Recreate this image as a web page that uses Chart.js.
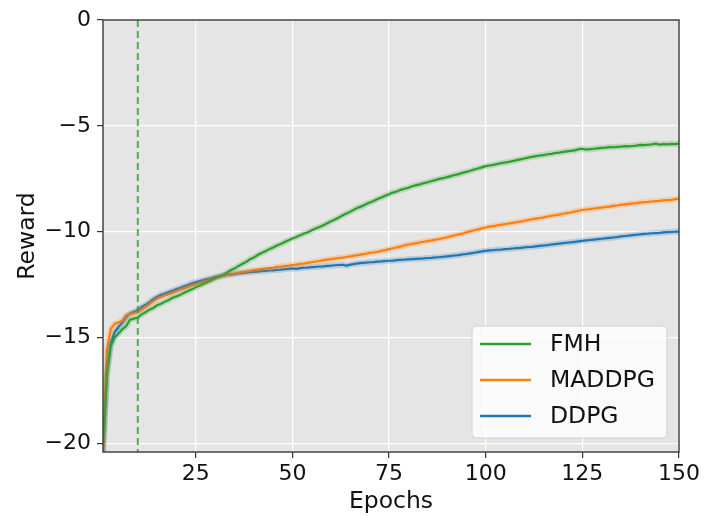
<!DOCTYPE html>
<html>
<head>
<meta charset="utf-8">
<script src="https://cdn.jsdelivr.net/npm/chart.js@4.4.1/dist/chart.umd.min.js"></script>
<style>
  html, body { margin: 0; padding: 0; background: #fff; }
  #wrap { width: 704px; height: 516px; }
</style>
</head>
<body>
<div id="wrap"><canvas id="myChart" width="704" height="516"></canvas></div>
<script>
// epochs 1..150
var epochs = [];
for (var i = 1; i <= 150; i++) epochs.push(i);

var xTicks = [25, 50, 75, 100, 125, 150];
var yTicks = [0, -5, -10, -15, -20];
var markerEpoch = 10;

var fmh = [
  -20.0, -16.8, -15.4, -15.0, -14.8, -14.6, -14.45, -14.15, -14.1, -14.05,
  -13.9, -13.8, -13.68, -13.6, -13.47, -13.4, -13.3, -13.22, -13.12, -13.05,
  -12.98, -12.88, -12.8, -12.72, -12.62, -12.55, -12.47, -12.38, -12.3, -12.2,
  -12.12, -12.04, -11.93, -11.82, -11.74, -11.62, -11.52, -11.43, -11.3, -11.22,
  -11.1, -11.0, -10.92, -10.82, -10.74, -10.65, -10.58, -10.48, -10.4, -10.32,
  -10.25, -10.17, -10.08, -10.02, -9.93, -9.85, -9.77, -9.69, -9.6, -9.5,
  -9.42, -9.33, -9.22, -9.14, -9.05, -8.95, -8.86, -8.79, -8.7, -8.62,
  -8.55, -8.45, -8.38, -8.3, -8.23, -8.15, -8.1, -8.02, -7.97, -7.92,
  -7.85, -7.8, -7.76, -7.7, -7.66, -7.6, -7.56, -7.5, -7.47, -7.42,
  -7.37, -7.32, -7.28, -7.22, -7.17, -7.12, -7.06, -7.01, -6.96, -6.9,
  -6.87, -6.84, -6.8, -6.76, -6.73, -6.7, -6.66, -6.62, -6.58, -6.54,
  -6.5, -6.46, -6.43, -6.4, -6.38, -6.34, -6.32, -6.28, -6.26, -6.23,
  -6.2, -6.18, -6.16, -6.1, -6.08, -6.12, -6.1, -6.08, -6.06, -6.04,
  -6.03, -6.0, -6.01, -5.99, -5.98, -5.96, -5.97, -5.95, -5.93, -5.9,
  -5.91, -5.89, -5.87, -5.84, -5.88, -5.86, -5.87, -5.85, -5.86, -5.84
];

var maddpg = [
  -20.4, -15.6, -14.6, -14.35, -14.28, -14.22, -13.95, -13.88, -13.84, -13.78,
  -13.66, -13.55, -13.42, -13.28, -13.15, -13.08, -13.0, -12.95, -12.88, -12.8,
  -12.74, -12.67, -12.6, -12.54, -12.48, -12.42, -12.38, -12.3, -12.25, -12.17,
  -12.12, -12.07, -12.04, -12.0, -11.97, -11.94, -11.9, -11.88, -11.85, -11.82,
  -11.79, -11.76, -11.74, -11.72, -11.7, -11.66, -11.64, -11.62, -11.6, -11.57,
  -11.55, -11.52, -11.5, -11.47, -11.44, -11.41, -11.38, -11.34, -11.32, -11.29,
  -11.27, -11.24, -11.22, -11.19, -11.16, -11.13, -11.1, -11.07, -11.04, -11.0,
  -10.98, -10.95, -10.9, -10.86, -10.82, -10.78, -10.74, -10.7, -10.64, -10.6,
  -10.57, -10.54, -10.5, -10.47, -10.44, -10.41, -10.37, -10.34, -10.3, -10.26,
  -10.22, -10.17, -10.12, -10.08, -10.03, -9.98, -9.93, -9.89, -9.84, -9.8,
  -9.76, -9.73, -9.7, -9.67, -9.64, -9.61, -9.58, -9.55, -9.52, -9.48,
  -9.45, -9.41, -9.38, -9.35, -9.32, -9.28, -9.25, -9.22, -9.19, -9.15,
  -9.12, -9.09, -9.05, -9.01, -8.97, -8.95, -8.93, -8.9, -8.88, -8.86,
  -8.83, -8.81, -8.78, -8.76, -8.73, -8.71, -8.68, -8.66, -8.65, -8.62,
  -8.6, -8.59, -8.57, -8.55, -8.54, -8.52, -8.5, -8.49, -8.46, -8.44
];

var ddpg = [
  -20.8, -16.7, -15.26, -14.75, -14.5, -14.3, -14.02, -13.86, -13.78, -13.7,
  -13.55, -13.45, -13.32, -13.18, -13.07, -12.98, -12.92, -12.85, -12.78, -12.7,
  -12.64, -12.57, -12.5, -12.43, -12.38, -12.33, -12.28, -12.23, -12.19, -12.14,
  -12.1, -12.07, -12.04, -12.02, -12.0, -11.97, -11.95, -11.93, -11.91, -11.89,
  -11.88, -11.86, -11.85, -11.83, -11.82, -11.8, -11.79, -11.77, -11.75, -11.73,
  -11.75, -11.72, -11.7, -11.69, -11.67, -11.66, -11.64, -11.63, -11.61, -11.6,
  -11.58, -11.57, -11.56, -11.6, -11.55, -11.52, -11.49, -11.47, -11.46, -11.44,
  -11.43, -11.41, -11.4, -11.38, -11.37, -11.36, -11.34, -11.33, -11.32, -11.3,
  -11.29, -11.28, -11.27, -11.26, -11.24, -11.23, -11.21, -11.2, -11.18, -11.16,
  -11.14, -11.12, -11.1, -11.07, -11.05, -11.02, -10.99, -10.96, -10.93, -10.9,
  -10.88, -10.87, -10.85, -10.84, -10.82, -10.81, -10.79, -10.77, -10.76, -10.74,
  -10.72, -10.71, -10.69, -10.67, -10.65, -10.63, -10.6, -10.58, -10.56, -10.54,
  -10.52, -10.5, -10.48, -10.45, -10.43, -10.41, -10.39, -10.37, -10.35, -10.33,
  -10.31, -10.29, -10.27, -10.25, -10.22, -10.2, -10.18, -10.16, -10.14, -10.12,
  -10.1, -10.09, -10.07, -10.06, -10.05, -10.03, -10.02, -10.01, -10.0, -9.99
];

var FONT = 'DejaVu Sans';

function pts(arr) {
  return arr.map(function (v, i) { return { x: epochs[i], y: v }; });
}

function line(label, arr, color, band) {
  return {
    label: label,
    data: pts(arr),
    borderColor: band ? color.replace('1)', '0.22)') : color,
    borderWidth: band ? 6 : 2.2,
    pointRadius: 0,
    tension: 0,
    fill: false,
    isBand: band
  };
}

var green = 'rgba(44,160,44,1)';
var orange = 'rgba(255,127,14,1)';
var blue = 'rgba(31,119,180,1)';

// background, spines, dashed marker and legend
var decor = {
  id: 'decor',
  beforeDraw: function (chart) {
    var a = chart.chartArea, c = chart.ctx;
    c.save();
    c.fillStyle = '#e5e5e5';
    c.fillRect(a.left, a.top, a.right - a.left, a.bottom - a.top);
    c.restore();
  },
  afterDatasetsDraw: function (chart) {
    var a = chart.chartArea, c = chart.ctx;
    var xs = chart.scales.x;
    var px = xs.getPixelForValue(markerEpoch);
    c.save();
    c.strokeStyle = 'rgba(44,160,44,0.8)';
    c.lineWidth = 2;
    c.setLineDash([7, 4]);
    c.beginPath();
    c.moveTo(px, a.top);
    c.lineTo(px, a.bottom);
    c.stroke();
    c.restore();
  },
  afterDraw: function (chart) {
    var a = chart.chartArea, c = chart.ctx;
    c.save();
    c.strokeStyle = '#444';
    c.lineWidth = 1.5;
    c.strokeRect(a.left, a.top, a.right - a.left, a.bottom - a.top);

    // legend
    var items = chart.data.datasets.filter(function (d) { return !d.isBand; });
    var w = 195, h = 112;
    var lx = a.right - 12 - w, ly = a.bottom - 14 - h;
    c.fillStyle = 'rgba(255,255,255,0.8)';
    c.strokeStyle = '#d0d0d0';
    c.lineWidth = 1;
    c.beginPath();
    c.roundRect(lx, ly, w, h, 4);
    c.fill();
    c.stroke();
    c.font = '23.5px "' + FONT + '"';
    c.textBaseline = 'middle';
    c.fillStyle = '#111';
    items.forEach(function (d, i) {
      var y = ly + 18 + i * 36;
      c.strokeStyle = d.borderColor;
      c.lineWidth = 2.5;
      c.beginPath();
      c.moveTo(lx + 8, y);
      c.lineTo(lx + 59, y);
      c.stroke();
      c.fillText(d.label, lx + 78, y + 1);
    });
    c.restore();
  }
};

var ctx = document.getElementById('myChart');

var myChart = new Chart(ctx, {
  type: 'line',
  data: {
    datasets: [
      line('', fmh, green, true),
      line('', maddpg, orange, true),
      line('', ddpg, blue, true),
      line('FMH', fmh, green, false),
      line('MADDPG', maddpg, orange, false),
      line('DDPG', ddpg, blue, false)
    ]
  },
  options: {
    responsive: false,
    animation: false,
    layout: { padding: { top: 20, right: 25, left: 0, bottom: 0 } },
    plugins: {
      legend: { display: false },
      tooltip: { enabled: false }
    },
    scales: {
      x: {
        type: 'linear',
        min: 1,
        max: 150,
        afterBuildTicks: function (s) {
          s.ticks = xTicks.map(function (v) { return { value: v }; });
        },
        afterFit: function (s) { s.height = 64; },
        grid: { color: '#fff', lineWidth: 1.2, tickColor: '#333', tickLength: 6 },
        border: { display: false },
        ticks: { color: '#111', font: { family: FONT, size: 22 }, padding: 3, maxRotation: 0 },
        title: { display: true, text: 'Epochs', color: '#111', font: { family: FONT, size: 23.5 }, padding: { top: 0, bottom: 0 } }
      },
      y: {
        min: -20.4,
        max: 0,
        afterBuildTicks: function (s) {
          s.ticks = yTicks.map(function (v) { return { value: v }; });
        },
        afterFit: function (s) { s.width = 103; },
        grid: { color: '#fff', lineWidth: 1.2, tickColor: '#333', tickLength: 6 },
        border: { display: false },
        ticks: {
          color: '#111',
          font: { family: FONT, size: 22 },
          padding: 6,
          callback: function (v) { return v < 0 ? '\u2212' + Math.abs(v) : '' + v; }
        },
        title: { display: true, text: 'Reward', color: '#111', font: { family: FONT, size: 23.5 }, padding: { top: 14, bottom: 0 } }
      }
    }
  },
  plugins: [decor]
});
</script>
</body>
</html>
